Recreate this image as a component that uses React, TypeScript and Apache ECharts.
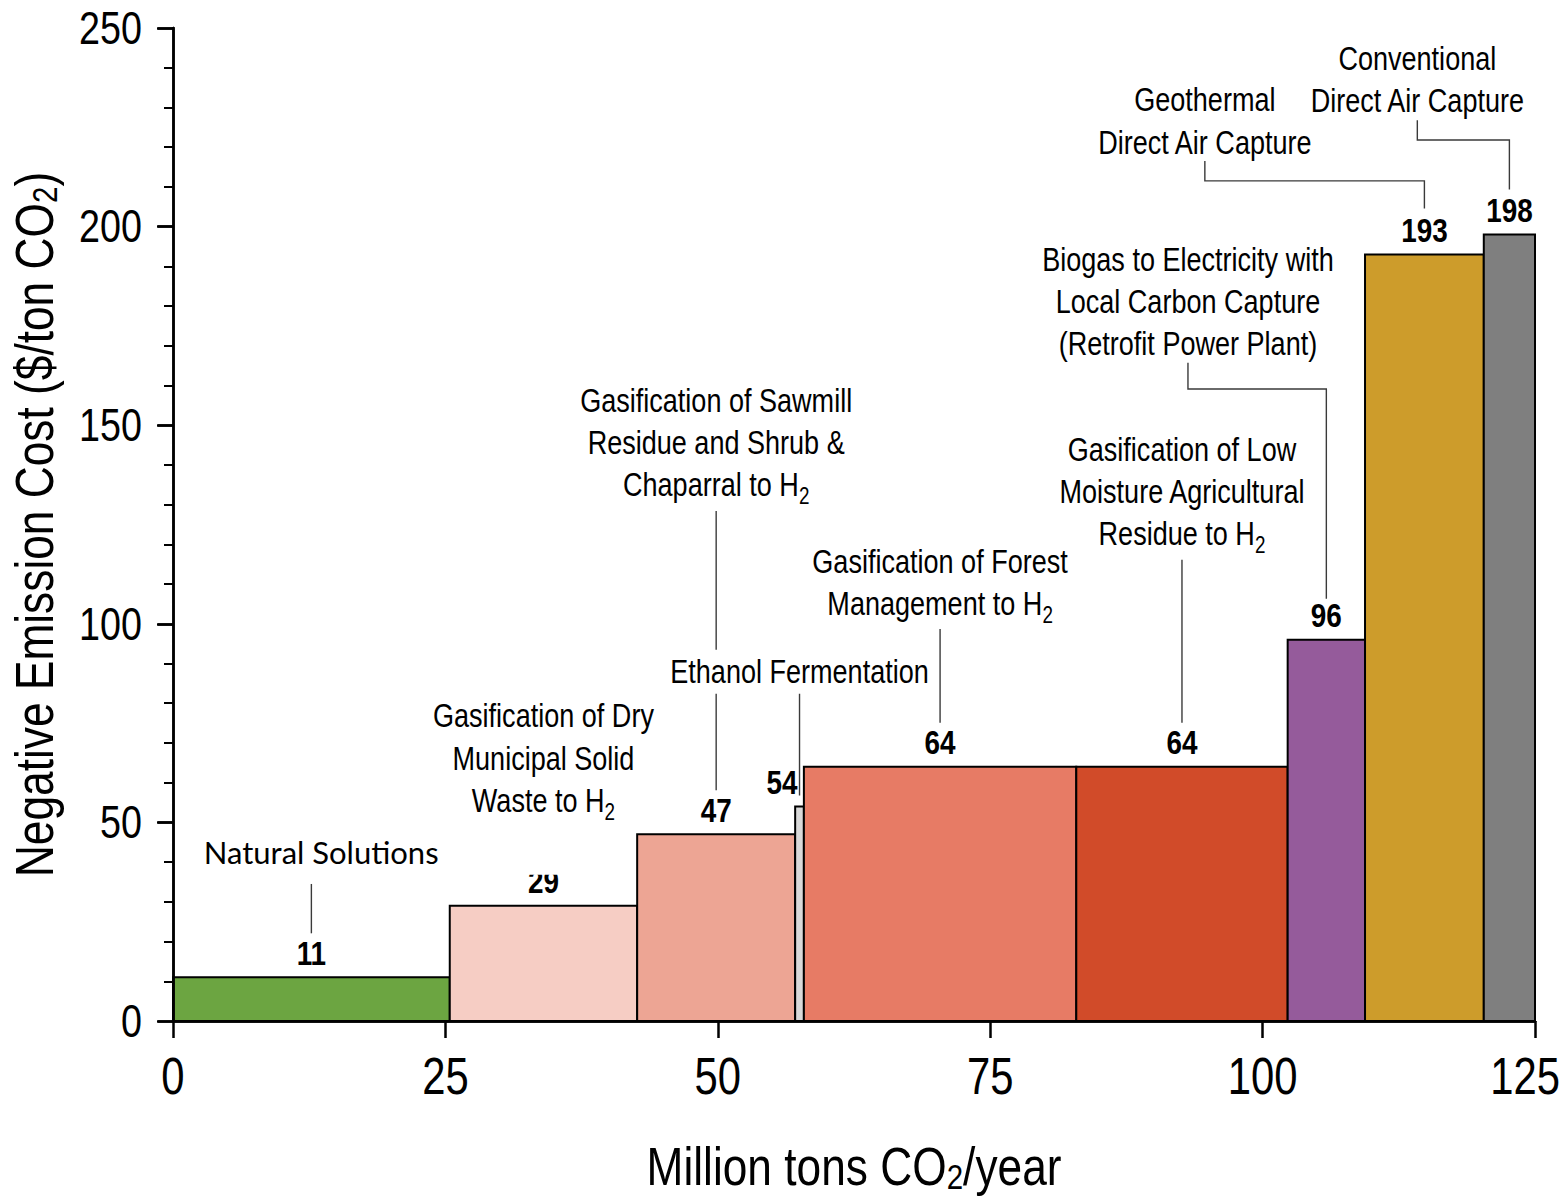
import React, { useEffect, useRef } from "react";
import * as echarts from "echarts";

// ---------- data ----------
const categories = [
  "Natural Solutions",
  "Gasification of Dry Municipal Solid Waste to H2",
  "Gasification of Sawmill Residue and Shrub & Chaparral to H2",
  "Ethanol Fermentation",
  "Gasification of Forest Management to H2",
  "Gasification of Low Moisture Agricultural Residue to H2",
  "Biogas to Electricity with Local Carbon Capture (Retrofit Power Plant)",
  "Geothermal Direct Air Capture",
  "Conventional Direct Air Capture",
];
// capacity (Million tons CO2/year) = bar widths
const capacities = [25.4, 17.2, 14.5, 0.8, 25.0, 19.4, 7.1, 10.9, 4.7];
// cost ($/ton CO2) = bar heights
const costs = [11, 29, 47, 54, 64, 64, 96, 193, 198];
const xTickValues = [0, 25, 50, 75, 100, 125];
const yTickValues = [0, 50, 100, 150, 200, 250];
const xAxisTitle = "Million tons CO{s|2}/year";
const yAxisTitle = "Negative Emission Cost ($/ton CO{s|2})";

// annotation texts ({s|2} = subscript 2)
const annotationTexts = [
  ["Natural Solutions"],
  ["Gasification of Dry", "Municipal Solid", "Waste to H{s|2}"],
  ["Gasification of Sawmill", "Residue and Shrub &", "Chaparral to H{s|2}"],
  ["Ethanol Fermentation"],
  ["Gasification of Forest", "Management to H{s|2}"],
  ["Gasification of Low", "Moisture Agricultural", "Residue to H{s|2}"],
  ["Biogas to Electricity with", "Local Carbon Capture", "(Retrofit Power Plant)"],
  ["Geothermal", "Direct Air Capture"],
  ["Conventional", "Direct Air Capture"],
];

// ---------- styles / layout ----------
const colors = [
  "#6ca541",
  "#f6cdc4",
  "#eda594",
  "#d9d9d9",
  "#e77b65",
  "#d14b29",
  "#955b9b",
  "#cd9c2b",
  "#7f7f7f",
];
const FONT = "'Liberation Sans', Arial, sans-serif";
const NARROW = 0.82; // horizontal squeeze -> Arial Narrow look
const CALIBRI = "Lato, 'Open Sans', sans-serif";
const WIDTH = 1563;
const HEIGHT = 1199;

// text anchor positions in data coordinates (tx null => bar centre)
const annotationLayout: any[] = [
  { tx: 13.6, ty: 42.5, top: 34.5, gap: 44, font: "calibri" },
  { tx: null, ty: 76.8, top: null },
  { tx: null, ty: 156.3, top: 128.4, gap: 44 },
  { tx: null, ty: 87.9, top: 83.3, gap: 11, bg: true },
  { tx: null, ty: 115.8, top: 98.7, gap: 44 },
  { tx: null, ty: 144.0, top: 116.1, gap: 44 },
  { tx: 93.15, ty: 191.8, top: 165.7, elbow: 159.1, gap: 41 },
  { tx: 94.7, ty: 231.9, top: 216.5, elbow: 211.5, gap: 46 },
  { tx: 114.2, ty: 242.4, top: 226.8, elbow: 221.8, gap: 45 },
];

const starts: number[] = [];
const ends: number[] = [];
{
  let acc = 0;
  capacities.forEach((c) => {
    starts.push(acc);
    acc = Math.round((acc + c) * 100) / 100;
    ends.push(acc);
  });
}

const subRich = (size: number, lh: number = size) => ({
  s: { fontFamily: FONT, fontSize: size, verticalAlign: "bottom", lineHeight: lh },
});

export default function App() {
  const ref = useRef<HTMLDivElement>(null);
  useEffect(() => {
    if (!ref.current) return;
    const chart = echarts.init(ref.current, null, { renderer: "svg" });

    const seriesData = costs.map((v, i) => [starts[i], ends[i], v, i]);
    const axisLineStyle = { color: "#000", width: 2.5 };

    chart.setOption({
      animation: false,
      backgroundColor: "#fff",
      grid: { left: 173, right: 28, top: 28, bottom: 178, containLabel: false, outerBoundsMode: "none" },
      xAxis: [
        {
          type: "value",
          min: 0,
          max: 125,
          interval: 25,
          position: "bottom",
          z: 10,
          axisLine: { show: true, lineStyle: axisLineStyle },
          axisTick: { show: true, inside: false, length: 17, lineStyle: axisLineStyle },
          axisLabel: { show: false },
          splitLine: { show: false },
        },
        {
          type: "value",
          min: 0,
          max: 125,
          interval: 25,
          position: "top",
          z: 10,
          axisLine: { show: true, lineStyle: axisLineStyle },
          axisTick: { show: false },
          axisLabel: { show: false },
          splitLine: { show: false },
        },
      ],
      yAxis: [
        {
          type: "value",
          min: 0,
          max: 250,
          interval: 50,
          position: "left",
          z: 10,
          axisLine: { show: true, lineStyle: axisLineStyle },
          axisTick: { show: true, inside: false, length: 16, lineStyle: axisLineStyle },
          minorTick: { show: true, splitNumber: 5, length: 9, lineStyle: { color: "#000", width: 2 } },
          axisLabel: { show: false },
          splitLine: { show: false },
          minorSplitLine: { show: false },
        },
        {
          type: "value",
          min: 0,
          max: 250,
          interval: 50,
          position: "right",
          z: 10,
          axisLine: { show: true, lineStyle: axisLineStyle },
          axisTick: { show: true, inside: true, length: 15, lineStyle: axisLineStyle },
          minorTick: { show: true, splitNumber: 5, length: 8, lineStyle: { color: "#000", width: 2 } },
          axisLabel: { show: false },
          splitLine: { show: false },
          minorSplitLine: { show: false },
        },
      ],
      series: [
        {
          type: "custom",
          name: "cost",
          xAxisIndex: 0,
          yAxisIndex: 0,
          z: 2,
          data: seriesData,
          encode: { x: [0, 1], y: 2 },
          renderItem: (params: any, api: any) => {
            const x0 = api.value(0);
            const x1 = api.value(1);
            const v = api.value(2);
            const i = api.value(3);
            const p0 = api.coord([x0, 0]);
            const p1 = api.coord([x1, v]);
            const mid = api.coord([(x0 + x1) / 2, v]);
            const right = i === 3;
            return {
              type: "group",
              children: [
                {
                  type: "rect",
                  shape: { x: p0[0], y: p1[1], width: p1[0] - p0[0], height: p0[1] - p1[1] },
                  style: { fill: colors[i], stroke: "#000", lineWidth: 2 },
                },
                {
                  type: "text",
                  x: right ? mid[0] - 2 : mid[0],
                  y: mid[1] - 24,
                  scaleX: NARROW,
                  style: {
                    text: String(v),
                    fontFamily: FONT,
                    fontWeight: "bold",
                    fontSize: 34,
                    fill: "#000",
                    align: right ? "right" : "center",
                    textAlign: right ? "right" : "center",
                    verticalAlign: "middle",
                    textVerticalAlign: "middle",
                  },
                },
              ],
            };
          },
        },
      ],
    });

    // ---------- texts & annotations positioned through the chart's scales ----------
    const px = (x: number, y: number) => chart.convertToPixel({ gridIndex: 0 }, [x, y]) as number[];
    const graphics: any[] = [];

    const txt = (x: number, y: number, text: string, size: number, extra: any = {}, elExtra: any = {}) => ({
      type: "text",
      z: 110,
      x,
      y,
      scaleX: NARROW,
      ...elExtra,
      style: {
        text,
        fontFamily: FONT,
        fontSize: size,
        fill: "#000",
        align: "center",
        textAlign: "center",
        verticalAlign: "middle",
        textVerticalAlign: "middle",
        ...extra,
      },
    });

    // tick labels
    yTickValues.forEach((v) => {
      const p = px(0, v);
      graphics.push(txt(p[0] - 31, p[1], String(v), 46, { align: "right", textAlign: "right" }));
    });
    xTickValues.forEach((v) => {
      const p = px(v, 0);
      const label = String(v);
      const halfW = (label.length * 0.556 * 51 * NARROW) / 2;
      // keep the last label inside the page
      const cx = Math.min(p[0], WIDTH - 3 - halfW);
      graphics.push(txt(cx, p[1] + 56, label, 51));
    });
    // axis titles
    {
      const o = px(0, 0);
      const c = px(62.5, 125);
      graphics.push(txt(c[0], o[1] + 145, xAxisTitle, 54, { rich: subRich(36, 26), lineHeight: 56 }));
      graphics.push(
        txt(o[0] - 139, c[1], yAxisTitle, 54, { rich: subRich(36, 26), lineHeight: 56 }, { rotation: Math.PI / 2 })
      );
    }

    // white box behind "Natural Solutions" (clips top of the "29" label as in the figure)
    {
      const m = px((starts[1] + ends[1]) / 2, costs[1]);
      const labelCenter = m[1] - 24;
      const l = px(2.6, 0);
      graphics.push({
        type: "rect",
        z: 100,
        shape: { x: l[0], y: labelCenter - 50, width: m[0] + 24 - l[0], height: 43 },
        style: { fill: "#fff" },
      });
    }

    annotationTexts.forEach((lines, i) => {
      const lay = annotationLayout[i];
      const barMid = (starts[i] + ends[i]) / 2;
      const tx = lay.tx == null ? barMid : lay.tx;
      const first = px(tx, lay.ty);
      const isCal = lay.font === "calibri";
      if (lay.top != null) {
        const barTop = px(barMid, costs[i]);
        const bottomY = barTop[1] - lay.gap;
        let pts: number[][];
        if (lay.elbow != null) {
          const a = px(tx, lay.top);
          const e = px(tx, lay.elbow);
          const em = px(barMid, lay.elbow);
          pts = [a, e, em, [em[0], bottomY]];
        } else {
          const a = px(barMid, lay.top);
          pts = [a, [a[0], bottomY]];
        }
        graphics.push({
          type: "polyline",
          z: 100,
          shape: { points: pts },
          style: { stroke: "#3a3a3a", lineWidth: 1.4, fill: null },
        });
      }
      lines.forEach((ln, k) => {
        if (isCal) {
          graphics.push(
            txt(first[0], first[1] + k * 42.3, ln, 31, { fontFamily: CALIBRI }, { scaleX: 1 })
          );
        } else {
          graphics.push(
            txt(first[0], first[1] + k * 42.3, ln, 33, {
              lineHeight: lay.bg ? 36 : 46,
              backgroundColor: lay.bg ? "#fff" : undefined,
              padding: lay.bg ? [4, 4, 4, 4] : undefined,
              rich: subRich(23),
            })
          );
        }
      });
    });

    chart.setOption({ graphic: { elements: graphics } });

    return () => chart.dispose();
  }, []);

  return (
    <div
      ref={ref}
      style={{ position: "fixed", left: 0, top: 0, width: WIDTH, height: HEIGHT, background: "#fff" }}
    />
  );
}
